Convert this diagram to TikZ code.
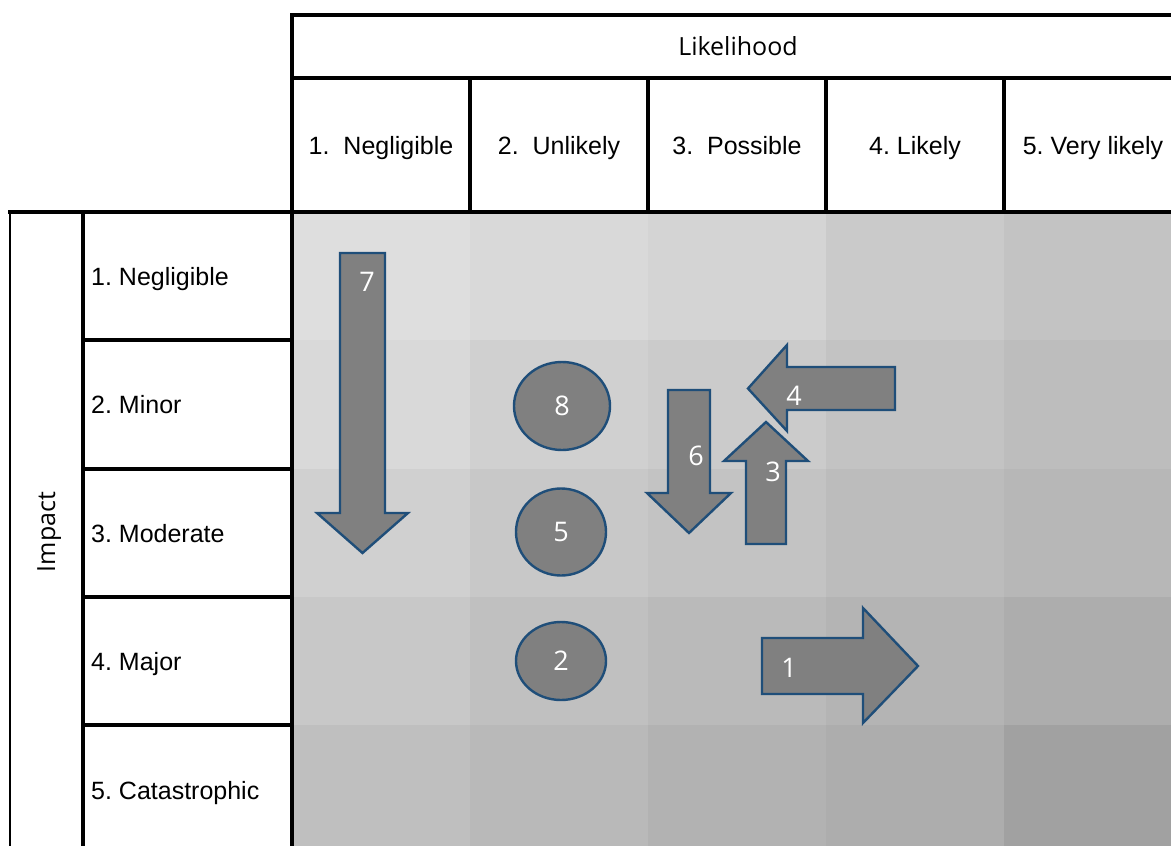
\documentclass[tikz,border=0pt]{standalone}
\usepackage{fontspec}
\setmainfont{Liberation Sans}
\newfontfamily\osans{Open Sans}
\usetikzlibrary{shapes.geometric}
\frenchspacing
\definecolor{edgeblue}{HTML}{1F4E79}
\definecolor{shp}{HTML}{808080}
\definecolor{cell11}{HTML}{DEDEDE}\definecolor{cell12}{HTML}{D9D9D9}\definecolor{cell13}{HTML}{D4D4D4}\definecolor{cell14}{HTML}{CACACA}\definecolor{cell15}{HTML}{C3C3C3}
\definecolor{cell21}{HTML}{D9D9D9}\definecolor{cell22}{HTML}{D0D0D0}\definecolor{cell23}{HTML}{CBCBCB}\definecolor{cell24}{HTML}{C3C3C3}\definecolor{cell25}{HTML}{BDBDBD}
\definecolor{cell31}{HTML}{D0D0D0}\definecolor{cell32}{HTML}{C8C8C8}\definecolor{cell33}{HTML}{C3C3C3}\definecolor{cell34}{HTML}{BCBCBC}\definecolor{cell35}{HTML}{B7B7B7}
\definecolor{cell41}{HTML}{C8C8C8}\definecolor{cell42}{HTML}{C0C0C0}\definecolor{cell43}{HTML}{BABABA}\definecolor{cell44}{HTML}{B4B4B4}\definecolor{cell45}{HTML}{ADADAD}
\definecolor{cell51}{HTML}{BFBFBF}\definecolor{cell52}{HTML}{B9B9B9}\definecolor{cell53}{HTML}{B2B2B2}\definecolor{cell54}{HTML}{ADADAD}\definecolor{cell55}{HTML}{A1A1A1}
\begin{document}
\begin{tikzpicture}[x=1pt,y=-1pt,
  grid/.style={line width=3.2pt, black},
  thingrid/.style={line width=2pt, black},
  lbl/.style={font=\fontsize{25}{30}\selectfont, inner sep=0pt},
  oslbl/.style={font=\osans\fontsize{25}{30}\selectfont, inner sep=0pt},
  shapeb/.style={fill=shp, draw=edgeblue, line width=2.4pt, line join=miter},
  num/.style={font=\osans\fontsize{27}{30}\selectfont, text=white, inner sep=0pt},
]
\useasboundingbox (0,0) rectangle (1171,846);
\fill[white] (0,0) rectangle (1171,846);
% cells
\foreach \r/\ya/\yb in {1/212/340,2/340/469,3/469/597,4/597/725,5/725/846}
  \foreach \c/\xa/\xb in {1/292/470,2/470/648,3/648/826,4/826/1004,5/1004/1171}
    \fill[cell\r\c] (\xa,\ya) rectangle (\xb,\yb);
% table lines
\draw[grid] (292,15) -- (1171,15);
\draw[grid] (292,78) -- (1171,78);
\draw[grid] (8,212) -- (1171,212);
\draw[grid] (292,13.4) -- (292,846);
\foreach \x in {470,648,826,1004} \draw[grid] (\x,78) -- (\x,214);
\draw[thingrid] (10,211) -- (10,846);
\draw[grid] (83,212) -- (83,846);
\foreach \y in {340,469,597,725} \draw[grid] (83,\y) -- (292,\y);
% headers
\node[oslbl, anchor=base] (lik) at (738,55) {Likelihood};
\node[lbl, anchor=base] (h1) at (381,154) {1.\ \ Negligible};
\node[lbl, anchor=base] (h2) at (559,154) {2.\ \ Unlikely};
\node[lbl, anchor=base] (h3) at (737,154) {3.\ \ Possible};
\node[lbl, anchor=base] (h4) at (915,154) {4. Likely};
\node[lbl, anchor=base] (h5) at (1093,154) {5. Very likely};
\node[oslbl, anchor=base, rotate=90] (imp) at (55,532) {Impact};
\node[lbl, anchor=base west] (r1) at (91,285) {1. Negligible};
\node[lbl, anchor=base west] (r2) at (91,413.5) {2. Minor};
\node[lbl, anchor=base west] (r3) at (91,542) {3. Moderate};
\node[lbl, anchor=base west] (r4) at (91,670) {4. Major};
\node[lbl, anchor=base west] (r5) at (91,799) {5. Catastrophic};
% arrows
\draw[shapeb] (340,253) -- (385,253) -- (385,513) -- (408,513) -- (362.5,553) -- (317,513) -- (340,513) -- cycle;
\node[num] (n7) at (367,282) {7};
\draw[shapeb] (668,390) -- (710,390) -- (710,493) -- (731,493) -- (689,533) -- (647,493) -- (668,493) -- cycle;
\node[num] (n6) at (696,456) {6};
\draw[shapeb] (746,544) -- (786,544) -- (786,461) -- (808,461) -- (766,422) -- (724,461) -- (746,461) -- cycle;
\node[num] (n3) at (773,472) {3};
\draw[shapeb] (895,367) -- (895,410) -- (787,410) -- (787,431) -- (748,388.5) -- (787,345) -- (787,367) -- cycle;
\node[num] (n4) at (794,396) {4};
\draw[shapeb] (762,638) -- (863,638) -- (863,608) -- (918,666) -- (863,723) -- (863,694) -- (762,694) -- cycle;
\node[num] (n1) at (789,668) {1};
% circles
\node[ellipse, shapeb, num, minimum width=96pt, minimum height=88pt] (c8) at (562,406) {8};
\node[ellipse, shapeb, num, minimum width=90pt, minimum height=87pt] (c5) at (561,532) {5};
\node[ellipse, shapeb, num, minimum width=90pt, minimum height=78pt] (c2) at (561,661) {2};
\end{tikzpicture}
\end{document}
